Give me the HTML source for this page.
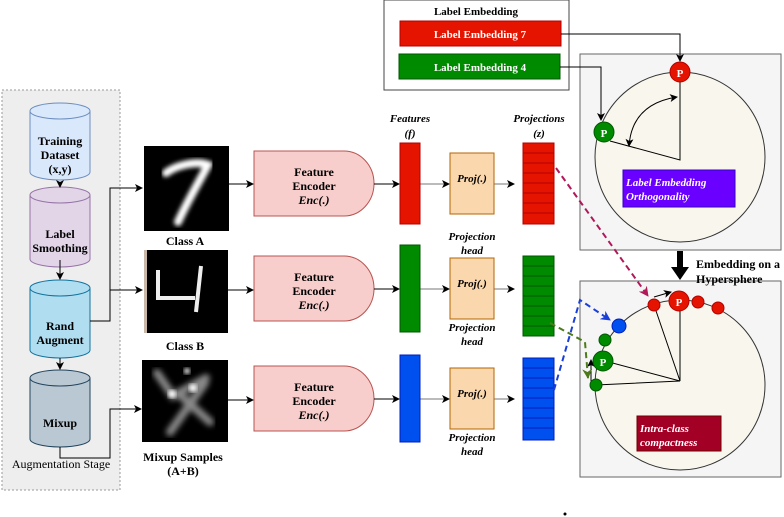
<!DOCTYPE html>
<html><head><meta charset="utf-8"><style>
html,body{margin:0;padding:0;background:#fff}
svg{display:block}
text{font-family:"Liberation Serif",serif;font-weight:bold}
</style></head><body>
<svg width="784" height="517" viewBox="0 0 784 517" xmlns="http://www.w3.org/2000/svg">
<defs>
<marker id="a" markerWidth="8" markerHeight="8" refX="7" refY="4" orient="auto-start-reverse" markerUnits="userSpaceOnUse"><path d="M0,0 L8,4 L0,8 L2,4z" fill="#000"/></marker>
<marker id="ar" markerWidth="10" markerHeight="10" refX="9" refY="5" orient="auto" markerUnits="userSpaceOnUse"><path d="M0,0 L10,5 L0,10 L3,5z" fill="#b0185a"/></marker>
<marker id="ab" markerWidth="10" markerHeight="10" refX="9" refY="5" orient="auto" markerUnits="userSpaceOnUse"><path d="M0,0 L10,5 L0,10 L3,5z" fill="#1a3fd8"/></marker>
<marker id="ag" markerWidth="10" markerHeight="10" refX="9" refY="5" orient="auto" markerUnits="userSpaceOnUse"><path d="M0,0 L10,5 L0,10 L3,5z" fill="#4d7a1a"/></marker>
<filter id="bl"><feGaussianBlur stdDeviation="2"/></filter>
<filter id="bl2"><feGaussianBlur stdDeviation="3"/></filter>
</defs>

<!-- Augmentation stage -->
<rect x="2" y="90" width="118" height="400" fill="#eeeeee" stroke="#999" stroke-dasharray="2,2"/>
<g stroke-width="1">
<path d="M30,111 v61 a30,8 0 0 0 60,0 v-61" fill="#dae8fc" stroke="#6c8ebf"/>
<ellipse cx="60" cy="111" rx="30" ry="8" fill="#dae8fc" stroke="#6c8ebf"/>
<path d="M30,195 v64 a30,8 0 0 0 60,0 v-64" fill="#e1d5e7" stroke="#9673a6"/>
<ellipse cx="60" cy="195" rx="30" ry="8" fill="#e1d5e7" stroke="#9673a6"/>
<path d="M30,288 v62 a30,8 0 0 0 60,0 v-62" fill="#b1ddf0" stroke="#10739e"/>
<ellipse cx="60" cy="288" rx="30" ry="8" fill="#b1ddf0" stroke="#10739e"/>
<path d="M30,378 v61 a30,8 0 0 0 60,0 v-61" fill="#bac8d3" stroke="#23445d"/>
<ellipse cx="60" cy="378" rx="30" ry="8" fill="#bac8d3" stroke="#23445d"/>
</g>
<g font-size="12" text-anchor="middle">
<text x="60" y="145">Training</text><text x="60" y="159">Dataset</text><text x="60" y="173">(x,y)</text>
<text x="60" y="238">Label</text><text x="60" y="252">Smoothing</text>
<text x="60" y="330">Rand</text><text x="60" y="344">Augment</text>
<text x="60" y="427">Mixup</text>
</g>
<text x="61" y="468" font-size="12" style="font-weight:normal" text-anchor="middle">Augmentation Stage</text>
<g stroke="#000" fill="none">
<line x1="60" y1="182" x2="60" y2="187" marker-end="url(#a)"/>
<line x1="60" y1="260" x2="60" y2="279" marker-end="url(#a)"/>
<line x1="60" y1="358" x2="60" y2="369" marker-end="url(#a)"/>
<path d="M90,321 H110 V188 H142" marker-end="url(#a)"/>
<path d="M110,290 H142" marker-end="url(#a)"/>
<path d="M60,447 V458 H110 V409 H141" marker-end="url(#a)"/>
</g>

<!-- images -->
<rect x="144" y="146" width="85" height="85" fill="#000"/>
<path d="M166,173 C175,166 196,160 208,165 C200,180 188,200 178,222" stroke="#fff" stroke-width="8" fill="none" stroke-linecap="round" filter="url(#bl)"/>
<rect x="144" y="250" width="84" height="83" fill="#000"/>
<rect x="144" y="250" width="3" height="83" fill="#c9b8a8"/>
<path d="M158,270 V298 H195 M201,266 L196,312" stroke="#eee" stroke-width="4" fill="none"/>
<rect x="142" y="360" width="86" height="82" fill="#000"/>
<g stroke="#888" stroke-width="8" fill="none" filter="url(#bl2)" stroke-linecap="round">
<path d="M157,373 L173,396 L206,378"/><path d="M205,383 L170,432"/><path d="M180,395 L210,422"/>
</g>
<circle cx="172" cy="394" r="4" fill="#fff" filter="url(#bl)"/><circle cx="193" cy="388" r="4" fill="#fff" filter="url(#bl)"/><circle cx="187" cy="371" r="3" fill="#fff" filter="url(#bl)"/>
<g font-size="12" text-anchor="middle">
<text x="185" y="245">Class A</text><text x="185" y="350">Class B</text>
<text x="183" y="461">Mixup Samples</text><text x="183" y="475">(A+B)</text>
</g>

<!-- encoders -->
<g fill="#f8cecc" stroke="#b85450">
<path d="M254,151 H344 A30,32.5 0 0 1 344,216 H254 Z"/>
<path d="M254,256 H344 A30,32.5 0 0 1 344,321 H254 Z"/>
<path d="M254,366 H344 A30,32.5 0 0 1 344,431 H254 Z"/>
</g>
<g font-size="12" text-anchor="middle">
<text x="314" y="176">Feature</text><text x="314" y="190">Encoder</text><text x="314" y="204" font-style="italic">Enc(.)</text>
<text x="314" y="281">Feature</text><text x="314" y="295">Encoder</text><text x="314" y="309" font-style="italic">Enc(.)</text>
<text x="314" y="391">Feature</text><text x="314" y="405">Encoder</text><text x="314" y="419" font-style="italic">Enc(.)</text>
</g>
<g stroke="#000" fill="none">
<line x1="229" y1="184" x2="253" y2="184" marker-end="url(#a)"/>
<line x1="228" y1="290" x2="253" y2="290" marker-end="url(#a)"/>
<line x1="228" y1="400" x2="253" y2="400" marker-end="url(#a)"/>
<line x1="374" y1="184" x2="399" y2="184" marker-end="url(#a)"/>
<line x1="374" y1="289" x2="399" y2="289" marker-end="url(#a)"/>
<line x1="374" y1="399" x2="399" y2="399" marker-end="url(#a)"/>
</g>
<g stroke="#777" fill="none">
<line x1="420" y1="184" x2="449" y2="184" marker-end="url(#a)"/>
<line x1="420" y1="289" x2="449" y2="289" marker-end="url(#a)"/>
<line x1="420" y1="399" x2="449" y2="399" marker-end="url(#a)"/>
<line x1="494" y1="184" x2="514" y2="184" marker-end="url(#a)"/>
<line x1="494" y1="289" x2="514" y2="289" marker-end="url(#a)"/>
<line x1="494" y1="399" x2="514" y2="399" marker-end="url(#a)"/>
</g>

<!-- features -->
<rect x="400" y="143" width="20" height="81" fill="#e51400" stroke="#b20000"/>
<rect x="400" y="245" width="20" height="87" fill="#008a00" stroke="#005700"/>
<rect x="400" y="355" width="20" height="87" fill="#0050ef" stroke="#001dbc"/>
<g font-size="11" font-style="italic" text-anchor="middle">
<text x="410" y="122">Features</text><text x="410" y="137">(f)</text>
<text x="539" y="122">Projections</text><text x="539" y="137">(z)</text>
</g>

<!-- proj -->
<g fill="#fad7ac" stroke="#b46504">
<rect x="450" y="153" width="44" height="61"/><rect x="450" y="258" width="44" height="61"/><rect x="450" y="368" width="44" height="61"/>
</g>
<g font-size="11" font-style="italic" text-anchor="middle">
<text x="472" y="182">Proj(.)</text><text x="472" y="287">Proj(.)</text><text x="472" y="397">Proj(.)</text>
<text x="472" y="240">Projection</text><text x="472" y="254">head</text>
<text x="472" y="331">Projection</text><text x="472" y="345">head</text>
<text x="472" y="441">Projection</text><text x="472" y="455">head</text>
</g>

<!-- projections -->
<g stroke="#b20000" fill="#e51400"><rect x="523" y="143" width="31" height="81"/></g>
<g stroke="#b20000"><line x1="523" y1="153" x2="554" y2="153"/><line x1="523" y1="163" x2="554" y2="163"/><line x1="523" y1="173" x2="554" y2="173"/><line x1="523" y1="183" x2="554" y2="183"/><line x1="523" y1="193" x2="554" y2="193"/><line x1="523" y1="203" x2="554" y2="203"/><line x1="523" y1="213" x2="554" y2="213"/></g>
<g stroke="#005700" fill="#008a00"><rect x="523" y="256" width="31" height="80"/></g>
<g stroke="#005700"><line x1="523" y1="266" x2="554" y2="266"/><line x1="523" y1="276" x2="554" y2="276"/><line x1="523" y1="286" x2="554" y2="286"/><line x1="523" y1="296" x2="554" y2="296"/><line x1="523" y1="306" x2="554" y2="306"/><line x1="523" y1="316" x2="554" y2="316"/><line x1="523" y1="326" x2="554" y2="326"/></g>
<g stroke="#001dbc" fill="#0050ef"><rect x="523" y="358" width="31" height="82"/></g>
<g stroke="#001dbc"><line x1="523" y1="368" x2="554" y2="368"/><line x1="523" y1="378" x2="554" y2="378"/><line x1="523" y1="388" x2="554" y2="388"/><line x1="523" y1="398" x2="554" y2="398"/><line x1="523" y1="408" x2="554" y2="408"/><line x1="523" y1="418" x2="554" y2="418"/><line x1="523" y1="428" x2="554" y2="428"/></g>

<!-- label embedding -->
<rect x="384" y="0" width="185" height="90" fill="#fff" stroke="#444"/>
<text x="476" y="15" font-size="11" text-anchor="middle">Label Embedding</text>
<rect x="400" y="21" width="161" height="25" fill="#e51400" stroke="#b20000"/>
<rect x="399" y="54" width="161" height="25" fill="#008a00" stroke="#005700"/>
<text x="480" y="38" font-size="11" fill="#fff" text-anchor="middle">Label Embedding 7</text>
<text x="480" y="71" font-size="11" fill="#fff" text-anchor="middle">Label Embedding 4</text>

<!-- top panel -->
<rect x="580" y="54" width="201" height="196" fill="#f5f5f5" stroke="#666"/>
<circle cx="680" cy="157" r="85" fill="#f9f7ed" stroke="#333"/>
<g stroke="#000" fill="none">
<path d="M561,34 H680 V61" marker-end="url(#a)"/>
<path d="M560,67 H601 V120" marker-end="url(#a)"/>
<path d="M680,82 V160 L610,141"/>
<path d="M677,97 Q632,104 629,146" marker-start="url(#a)" marker-end="url(#a)"/>
</g>
<circle cx="680" cy="72" r="10" fill="#e51400" stroke="#b20000"/>
<circle cx="604" cy="132" r="10" fill="#008a00" stroke="#005700"/>
<text x="680" y="77" font-size="11" fill="#fff" text-anchor="middle" font-family="Liberation Sans">P</text>
<text x="604" y="137" font-size="11" fill="#fff" text-anchor="middle" font-family="Liberation Sans">P</text>
<rect x="623" y="170" width="112" height="37" fill="#6a00ff" stroke="#3700cc"/>
<text x="626" y="186" font-size="11" font-style="italic" fill="#fff">Label Embedding</text>
<text x="626" y="200" font-size="11" font-style="italic" fill="#fff">Orthogonality</text>

<!-- bottom panel -->
<rect x="580" y="281" width="201" height="196" fill="#f5f5f5" stroke="#666"/>
<circle cx="680" cy="385" r="85" fill="#f9f7ed" stroke="#333"/>

<!-- big arrow -->
<path d="M677,251 h6 v16 h6 l-9,13 l-9,-13 h6z" fill="#000"/>
<text x="696" y="268" font-size="12">Embedding on a</text>
<text x="696" y="283" font-size="12">Hypersphere</text>

<g stroke="#000" fill="none">
<path d="M654,305 L680,381 L680,301"/>
<path d="M605,361 L680,381 L596,385"/>
<line x1="654" y1="297" x2="671" y2="292" marker-end="url(#a)"/>
<line x1="591" y1="383" x2="591" y2="360" marker-end="url(#a)"/>
</g>
<circle cx="654" cy="305" r="6" fill="#e51400" stroke="#b20000"/>
<circle cx="698" cy="302" r="6" fill="#e51400" stroke="#b20000"/>
<circle cx="718" cy="308" r="6" fill="#e51400" stroke="#b20000"/>
<circle cx="679" cy="301" r="10" fill="#e51400" stroke="#b20000"/>
<text x="679" y="306" font-size="11" fill="#fff" text-anchor="middle">P</text>
<circle cx="619" cy="326" r="7" fill="#0050ef" stroke="#001dbc"/>
<circle cx="605" cy="340" r="6" fill="#008a00" stroke="#005700"/>
<circle cx="603" cy="361" r="10" fill="#008a00" stroke="#005700"/>
<text x="603" y="366" font-size="11" fill="#fff" text-anchor="middle">P</text>
<circle cx="596" cy="385" r="6" fill="#008a00" stroke="#005700"/>
<rect x="637" y="416" width="84" height="35" fill="#a20025" stroke="#6f0000"/>
<text x="640" y="432" font-size="11" font-style="italic" fill="#fff">Intra-class</text>
<text x="640" y="446" font-size="11" font-style="italic" fill="#fff">compactness</text>

<!-- dashed -->
<g fill="none" stroke-width="2" stroke-dasharray="6,4">
<path d="M556,168 L648,296" stroke="#b0185a" marker-end="url(#ar)"/>
<path d="M554,390 L580,300 L610,320" stroke="#1a3fd8" marker-end="url(#ab)"/>
<path d="M550,323 L585,342 L588,378" stroke="#4d7a1a" marker-end="url(#ag)"/>
</g>
<circle cx="565" cy="514" r="1.5" fill="#000"/>
</svg>
</body></html>
